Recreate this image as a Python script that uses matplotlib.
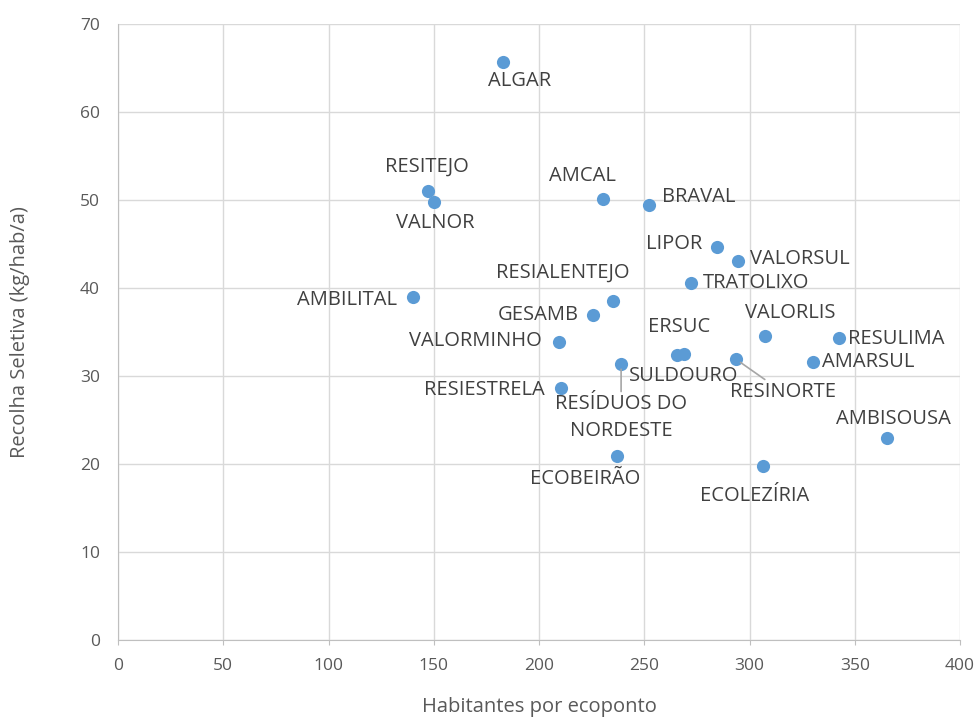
import numpy as np
import matplotlib.pyplot as plt

plt.rcParams['font.family'] = ['Open Sans', 'DejaVu Sans']

# Data
names = ['ALGAR', 'RESITEJO', 'VALNOR', 'AMCAL', 'BRAVAL', 'LIPOR', 'VALORSUL',
         'TRATOLIXO', 'RESIALENTEJO', 'AMBILITAL', 'GESAMB', 'VALORMINHO',
         'ERSUC', 'SULDOURO', 'RESIESTRELA', 'RESÍDUOS DO\nNORDESTE', 'ECOBEIRÃO',
         'ECOLEZÍRIA', 'VALORLIS', 'RESULIMA', 'AMARSUL', 'RESINORTE', 'AMBISOUSA']
habitantes = [182.9, 147.3, 150.1, 230.4, 252.3, 284.6, 294.5,
              272.2, 235.2, 140.1, 225.7, 209.5,
              265.6, 268.9, 210.5, 239.0, 237.1,
              306.4, 307.4, 342.5, 330.2, 293.6, 365.3]
recolha = [65.7, 51.0, 49.8, 50.1, 49.4, 44.7, 43.1,
           40.6, 38.5, 39.0, 36.9, 33.9,
           32.4, 32.5, 28.6, 31.4, 20.9,
           19.8, 34.5, 34.3, 31.6, 31.9, 23.0]

# label placement: offset in pixels (x right, y up), horizontal alignment, leader line
offsets = [(17, -19), (-1, 24), (1, -21), (-21, 23), (13, 8), (-15, 3), (12, 2),
           (12, 0), (-50, 28), (-16, -3), (-14, 0), (-17, 1),
           (2, 28), (0, -22), (-16, -2), (0, -54), (-32, -23),
           (-8, -30), (25, 23), (9, -1), (9, 0), (47, -33), (6, 19)]
aligns = ['center', 'center', 'center', 'center', 'left', 'right', 'left',
          'left', 'center', 'right', 'right', 'right',
          'center', 'center', 'right', 'center', 'center',
          'center', 'center', 'left', 'left', 'center', 'center']
leaders = ['RESÍDUOS DO\nNORDESTE', 'RESINORTE']

fig = plt.figure(figsize=(9.75, 7.19), dpi=100)
ax = fig.add_axes([118 / 975, 79 / 719, 842 / 975, 616 / 719])

ax.scatter(habitantes, recolha, s=90, color='#5B9BD5', zorder=3, linewidths=0)

for name, x, y, off, ha in zip(names, habitantes, recolha, offsets, aligns):
    kw = {}
    if name in leaders:
        kw['arrowprops'] = dict(arrowstyle='-', color='#a6a6a6', lw=1.2,
                                shrinkA=0, shrinkB=4)
    ax.annotate(name, (x, y), xytext=off, textcoords='offset pixels',
                ha=ha, va='center', fontsize=14.5, color='#404040',
                linespacing=1.45, zorder=4, **kw)

ax.set_xlim(0, 400)
ax.set_ylim(0, 70)
ax.set_xticks(np.arange(0, 401, 50))
ax.set_yticks(np.arange(0, 71, 10))
ax.grid(True, color='#d9d9d9', lw=1)
ax.set_axisbelow(True)
for s in ['top', 'right']:
    ax.spines[s].set_visible(False)
for s in ['left', 'bottom']:
    ax.spines[s].set_color('#bfbfbf')
ax.tick_params(axis='x', length=3.6, direction='out', color='#bfbfbf',
               labelsize=12.5, labelcolor='#595959', pad=9)
ax.tick_params(axis='y', length=0, labelsize=12.5, labelcolor='#595959', pad=13)

ax.set_xlabel('Habitantes por ecoponto', fontsize=14.5, color='#595959')
ax.xaxis.set_label_coords(0.5, -0.092)
ax.set_ylabel('Recolha Seletiva (kg/hab/a)', fontsize=14.5, color='#595959')
ax.yaxis.set_label_coords(-0.105, 0.5)

fig.savefig('out.png', dpi=100)
